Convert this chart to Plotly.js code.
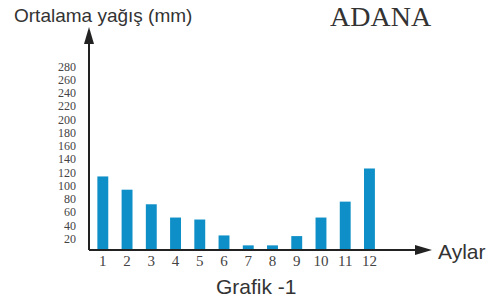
<!DOCTYPE html>
<html>
<head>
<meta charset="utf-8">
<script src="https://cdn.plot.ly/plotly-3.0.1.min.js"></script>
<style>html,body{margin:0;padding:0;background:#fff;}#chart{width:497px;height:303px;}</style>
</head>
<body>
<div id="chart"></div>
<script>
var months = [1, 2, 3, 4, 5, 6, 7, 8, 9, 10, 11, 12];
var monthLabels = ["1", "2", "3", "4", "5", "6", "7", "8", "9", "10", "11", "12"];
var rainfall = [111, 91, 69, 49, 46, 22, 7, 7, 21, 49, 73, 123];
var yTickVals = [20, 40, 60, 80, 100, 120, 140, 160, 180, 200, 220, 240, 260, 280];
var yTickText = ["20", "40", "60", "80", "100", "120", "140", "160", "180", "200", "220", "240", "260", "280"];

var W = 497, H = 303;
var mL = 89, mR = 65, mT = 27, mB = 53;
var pw = W - mL - mR, ph = H - mT - mB;
function px(x) { return (x - mL) / pw; }
function py(y) { return (H - mB - y) / ph; }

var axisColor = '#222';
var arrowLen = 17, arrowHalf = 5;

var shapes = [
  {type: 'line', xref: 'paper', yref: 'paper', x0: 0, x1: 0, y0: 0, y1: 1 - arrowLen / ph,
   line: {color: axisColor, width: 2}},
  {type: 'path', xref: 'paper', yref: 'paper',
   path: 'M' + (-arrowHalf / pw) + ',' + (1 - arrowLen / ph) + ' L0,1 L' + (arrowHalf / pw) + ',' + (1 - arrowLen / ph) + ' Z',
   fillcolor: axisColor, line: {color: axisColor, width: 0}},
  {type: 'line', xref: 'paper', yref: 'paper', x0: 0, x1: 1 - arrowLen / pw, y0: 0, y1: 0,
   line: {color: axisColor, width: 2}},
  {type: 'path', xref: 'paper', yref: 'paper',
   path: 'M' + (1 - arrowLen / pw) + ',' + (-arrowHalf / ph) + ' L1,0 L' + (1 - arrowLen / pw) + ',' + (arrowHalf / ph) + ' Z',
   fillcolor: axisColor, line: {color: axisColor, width: 0}}
];

var sans = 'Liberation Sans, Arial, sans-serif';
var serif = 'Liberation Serif, Times New Roman, serif';

var annotations = [
  {text: 'Ortalama yağış (mm)', xref: 'paper', yref: 'paper', x: px(12), y: py(15),
   xanchor: 'left', yanchor: 'middle', showarrow: false, font: {family: sans, size: 19, color: '#333'}},
  {text: 'ADANA', xref: 'paper', yref: 'paper', x: px(328), y: py(16),
   xanchor: 'left', yanchor: 'middle', showarrow: false, font: {family: serif, size: 28, color: '#333'}},
  {text: 'Aylar', xref: 'paper', yref: 'paper', x: px(436), y: py(251),
   xanchor: 'left', yanchor: 'middle', showarrow: false, font: {family: sans, size: 21, color: '#333'}},
  {text: 'Grafik -1', xref: 'paper', yref: 'paper', x: px(214), y: py(286),
   xanchor: 'left', yanchor: 'middle', showarrow: false, font: {family: sans, size: 21, color: '#333'}}
];

var trace = {
  type: 'bar', x: months, y: rainfall, width: 0.45,
  marker: {color: '#0f8fc7', line: {width: 0}},
  hoverinfo: 'none'
};

var layout = {
  width: W, height: H,
  margin: {l: mL, r: mR, t: mT, b: mB, pad: 0},
  paper_bgcolor: '#fff', plot_bgcolor: '#fff',
  showlegend: false,
  xaxis: {
    range: [0.43, 14.58], tickvals: months, ticktext: monthLabels,
    showgrid: false, zeroline: false, showline: false, ticks: '',
    tickfont: {family: serif, size: 15, color: '#444'}
  },
  yaxis: {
    range: [0, ph / 0.6627], tickvals: yTickVals, ticktext: yTickText,
    showgrid: false, zeroline: false, showline: false, ticks: '',
    ticklabelstandoff: 12, ticklabelshift: 2,
    tickfont: {family: serif, size: 12, color: '#444'}
  },
  shapes: shapes,
  annotations: annotations
};

Plotly.newPlot('chart', [trace], layout, {staticPlot: true, displayModeBar: false});
</script>
</body>
</html>
